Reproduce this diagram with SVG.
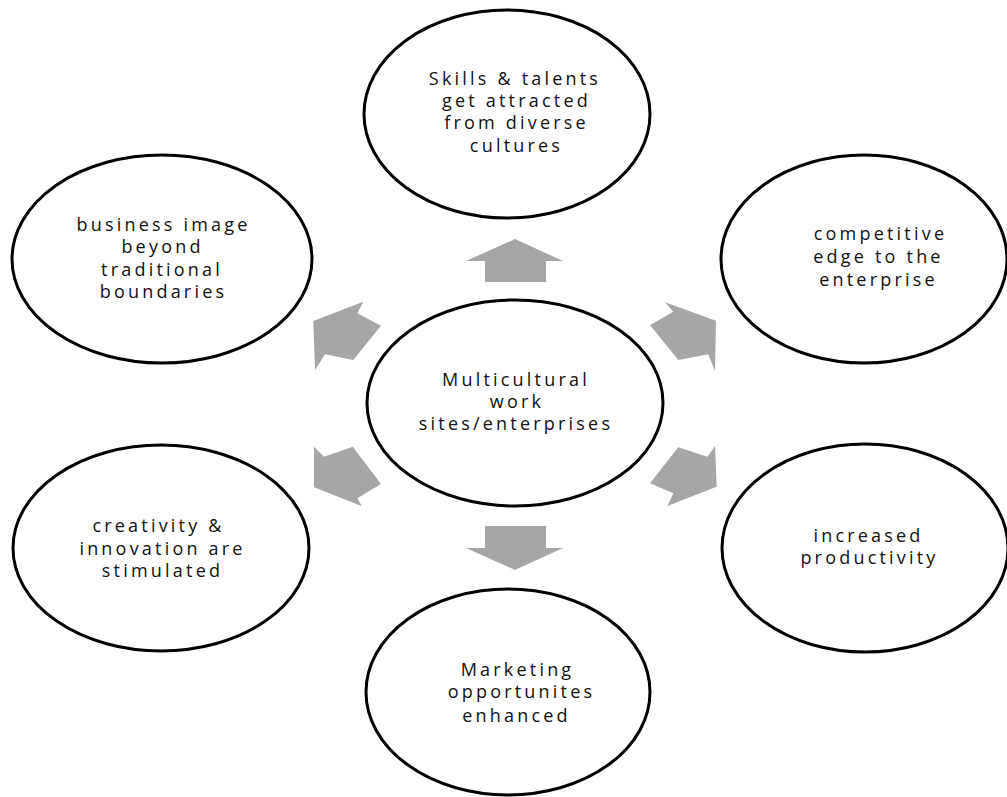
<svg xmlns="http://www.w3.org/2000/svg" width="1007" height="797" viewBox="0 0 1007 797">
<style>
.node ellipse { fill: #ffffff; stroke: #000000; stroke-width: 3; }
.node text { font-family: "Open Sans", "Liberation Sans", sans-serif; font-size: 18px; letter-spacing: 3.2px; fill: #111111; text-anchor: middle; }
.arrow { fill: #a6a6a6; stroke: none; }
</style>
<rect width="1007" height="797" fill="#ffffff"/>
<g id="connectors">
<polygon class="arrow" points="485,282 485,261 466,261 515,239 563,261 546,261 546,282"/>
<polygon class="arrow" points="485,526 546,526 546,548 563,548 515,570 466,548 485,548"/>
<polygon class="arrow" points="363.3,301.7 357.3,313.3 381,325.7 353.3,360 325,354.3 315,370 313.3,321"/>
<polygon class="arrow" points="665,302.3 673.3,311.7 650,325 678.3,360 708.3,354.3 715,371 716,320.7"/>
<polygon class="arrow" points="314,446.7 324,456.7 352.7,446.7 381,484 357.3,498.3 361.7,506 314,487.3"/>
<polygon class="arrow" points="715,446 707.3,456.7 678.3,447.3 650,483.3 673.3,493.3 667.3,506 716.7,486.7"/>
</g>
<g id="node-center" class="node">
<ellipse cx="515" cy="403" rx="148" ry="103"/>
<text x="516" y="385.5">Multicultural</text>
<text x="517" y="408">work</text>
<text x="516" y="430">sites/enterprises</text>
</g>
<g id="node-skills" class="node">
<ellipse cx="507" cy="114" rx="143" ry="104"/>
<text x="515" y="84.5">Skills &amp; talents</text>
<text x="516.5" y="107">get attracted</text>
<text x="516.5" y="129">from diverse</text>
<text x="516.5" y="152">cultures</text>
</g>
<g id="node-business" class="node">
<ellipse cx="162" cy="259" rx="150" ry="104"/>
<text x="163.5" y="231">business image</text>
<text x="162.5" y="253">beyond</text>
<text x="162" y="276">traditional</text>
<text x="163.5" y="298">boundaries</text>
</g>
<g id="node-competitive" class="node">
<ellipse cx="864" cy="259" rx="143" ry="104"/>
<text x="880.5" y="240">competitive</text>
<text x="878.5" y="263">edge to the</text>
<text x="878.5" y="286">enterprise</text>
</g>
<g id="node-creativity" class="node">
<ellipse cx="161" cy="548" rx="148" ry="103"/>
<text x="158.5" y="532">creativity &amp;</text>
<text x="162.5" y="555">innovation are</text>
<text x="162.5" y="577">stimulated</text>
</g>
<g id="node-productivity" class="node">
<ellipse cx="865" cy="548" rx="143" ry="104"/>
<text x="868.5" y="542">increased</text>
<text x="869.5" y="564">productivity</text>
</g>
<g id="node-marketing" class="node">
<ellipse cx="508" cy="692" rx="142" ry="103"/>
<text x="517.5" y="676">Marketing</text>
<text x="521.5" y="698">opportunites</text>
<text x="516.5" y="722">enhanced</text>
</g>
</svg>
